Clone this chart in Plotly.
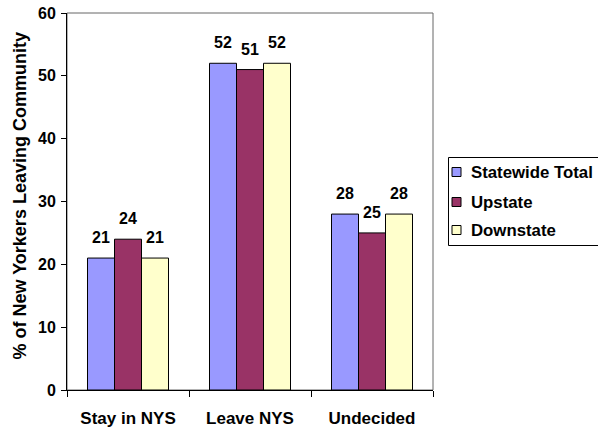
import plotly.graph_objects as go

categories = ["Stay in NYS", "Leave NYS", "Undecided"]
statewide = [21, 52, 28]
upstate = [24, 51, 25]
downstate = [21, 52, 28]
series_names = ["Statewide Total", "Upstate", "Downstate"]
colors = ["#9999FF", "#993366", "#FFFFCC"]
y_title = "% of New Yorkers Leaving Community"

FONT = "Liberation Sans, Arial, sans-serif"


def bold(size):
    return dict(family=FONT, size=size, color="black", weight="bold")


W, H = 598, 429
L, R, T, B = 67, 165, 13, 39
PW, PH = W - L - R, H - T - B
BARGAP = 0.336


def px(fx):
    return (fx - L) / PW


def py(fy):
    return (H - B - fy) / PH


all_series = [statewide, upstate, downstate]
fig = go.Figure()
for name, vals, c in zip(series_names, all_series, colors):
    fig.add_trace(go.Bar(
        x=categories, y=vals, name=name,
        marker=dict(color=c, line=dict(color="black", width=1)),
        showlegend=False,
    ))

shapes = [dict(type="rect", xref="paper", yref="paper", x0=0, x1=1, y0=0, y1=1,
               line=dict(color="#666666", width=1), layer="below")]
annotations = []

# value labels above each bar, placed through the data axes
n = len(all_series)
bw = (1 - BARGAP) / n
for k, vals in enumerate(all_series):
    for i, v in enumerate(vals):
        annotations.append(dict(
            text=str(v), xref="x", yref="y",
            x=i + (k - (n - 1) / 2) * bw, y=v,
            xanchor="center", yanchor="bottom", yshift=10,
            showarrow=False, font=bold(16)))

# legend box (right side runs off the picture, as in the original)
shapes.append(dict(type="rect", xref="paper", yref="paper",
                   x0=px(448.5), x1=px(W + 20), y0=py(157.5), y1=py(245.5),
                   line=dict(color="black", width=1), fillcolor="white"))
row_y = [172, 202, 230]
for name, c, ry in zip(series_names, colors, row_y):
    shapes.append(dict(type="rect", xref="paper", yref="paper",
                       x0=px(452), x1=px(461), y0=py(ry - 4.5), y1=py(ry + 4.5),
                       line=dict(color="black", width=1), fillcolor=c))
    annotations.append(dict(text=name, xref="paper", yref="paper",
                            x=px(469), y=py(ry), xanchor="left", yanchor="middle",
                            showarrow=False, font=bold(16.8)))

# y-axis title
annotations.append(dict(text=y_title, xref="paper", yref="paper",
                        x=px(19), y=py(362), xanchor="center", yanchor="bottom",
                        textangle=-90, showarrow=False, font=bold(18)))

fig.update_layout(
    width=W, height=H,
    margin=dict(l=L, r=R, t=T, b=B, autoexpand=False),
    paper_bgcolor="white", plot_bgcolor="white",
    barmode="group", bargap=BARGAP, bargroupgap=0,
    font=bold(16),
    showlegend=False,
    xaxis=dict(
        showline=True, linecolor="black", linewidth=1,
        ticks="outside", ticklen=6, tickcolor="black",
        tickson="boundaries", automargin=False,
        tickfont=bold(17), ticklabelstandoff=13,
        showgrid=False,
    ),
    yaxis=dict(
        range=[0, 60], dtick=10, automargin=False,
        showline=True, linecolor="black", linewidth=1,
        ticks="outside", ticklen=5, tickcolor="black",
        tickfont=bold(16), ticklabelstandoff=2,
        showgrid=False, zeroline=False,
    ),
    shapes=shapes,
    annotations=annotations,
)

fig.write_html(
    "out.html",
    config={"displayModeBar": False},
    post_script="document.body.style.margin='0';document.body.style.overflow='hidden';",
)
